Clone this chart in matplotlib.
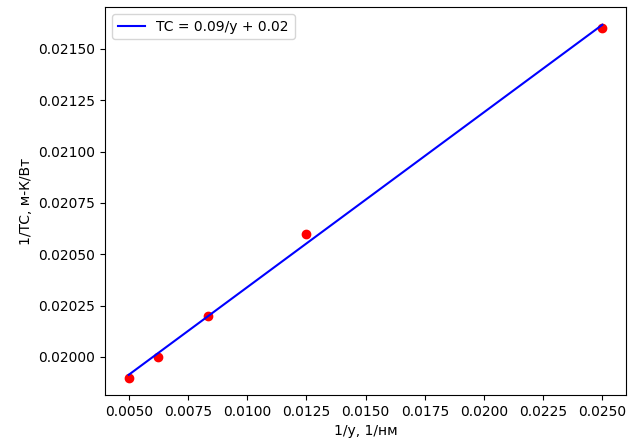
"""
Inverse thermal conductance vs inverse thickness, with linear fit.
"""

import numpy as np
import matplotlib

matplotlib.use("Agg")
import matplotlib.pyplot as plt

# measured points
inv_y = [1 / 200, 1 / 160, 1 / 120, 1 / 80, 1 / 40]
inv_tc = [0.0199, 0.0200, 0.0202, 0.0206, 0.0216]


def main():
    x = np.array(inv_y)
    y = np.array(inv_tc)
    a, b = np.polyfit(x, y, 1)

    fig = plt.figure(figsize=(6.33, 4.46), dpi=100)
    ax = fig.add_subplot(111)
    fig.subplots_adjust(left=0.166, right=0.989, top=0.984, bottom=0.114)

    ax.scatter(x, y, color="red")
    ax.plot(x, a * x + b, color="blue", label=f"TC = {a:.2f}/y + {b:.2f}")

    ax.set_xlabel("1/y, 1/нм")
    ax.set_ylabel("1/TC, м-К/Вт")
    ax.legend(loc="upper left")

    fig.savefig("out.png")
    plt.close(fig)


if __name__ == "__main__":
    main()
